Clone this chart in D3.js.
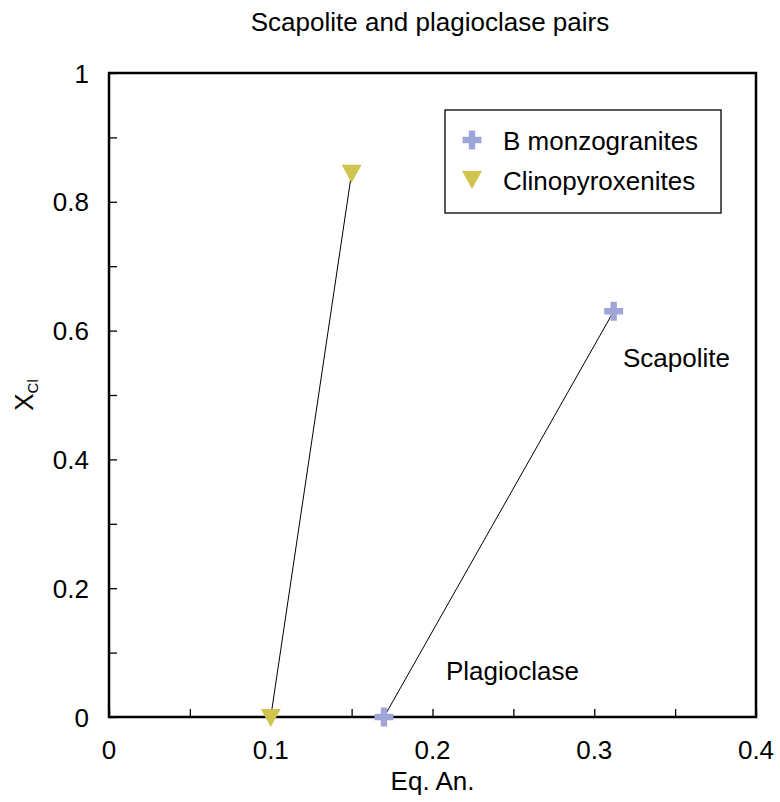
<!DOCTYPE html>
<html>
<head>
<meta charset="utf-8">
<script src="https://cdn.jsdelivr.net/npm/d3@7"></script>
<style>
 body { margin: 0; background: #fff; }
 text { font-family: "Liberation Sans", Arial, sans-serif; fill: #000; }
</style>
</head>
<body>
<div id="chart"></div>
<script>
 // data
 const seriesNames = ["B monzogranites", "Clinopyroxenites"];
 const monzoX = [0.17, 0.312];
 const monzoY = [0.0, 0.63];
 const clinoX = [0.1, 0.15];
 const clinoY = [0.0, 0.845];
 const xTicks = [0, 0.1, 0.2, 0.3, 0.4];
 const yTicks = [0, 0.2, 0.4, 0.6, 0.8, 1];
 const xMinor = [0.05, 0.15, 0.25, 0.35];
 const yMinor = [0.1, 0.3, 0.5, 0.7, 0.9];
 const notes = [{label: "Scapolite", x: 0.3178, y: 0.5435}, {label: "Plagioclase", x: 0.2083, y: 0.0575}];

 const W = 780, H = 802;
 const margin = {top: 73, right: 24, bottom: 85, left: 109};
 const width = W - margin.left - margin.right,
     height = H - margin.top - margin.bottom;

 const svg = d3.select("#chart").append("svg")
     .attr("width", W)
     .attr("height", H);

 const g = svg.append("g")
     .attr("transform", "translate(" + margin.left + "," + margin.top + ")");

 const x = d3.scaleLinear().domain([0, 0.4]).range([0, width]);
 const y = d3.scaleLinear().domain([0, 1]).range([height, 0]);

 // inward ticks
 g.append("g")
     .attr("transform", "translate(0," + height + ")")
     .call(d3.axisBottom(x).tickValues(xTicks.concat(xMinor)).tickSize(-8).tickFormat(""))
     .call(a => a.select(".domain").remove());
 g.append("g")
     .call(d3.axisLeft(y).tickValues(yTicks.concat(yMinor)).tickSize(-8).tickFormat(""))
     .call(a => a.select(".domain").remove());
 g.selectAll(".tick line").attr("stroke", "#000").attr("stroke-width", 1.3);

 // tick labels
 g.selectAll(".xlab").data(xTicks).enter().append("text")
     .attr("x", d => x(d)).attr("y", height + 42)
     .attr("text-anchor", "middle").attr("font-size", 26)
     .text(d => d);
 g.selectAll(".ylab").data(yTicks).enter().append("text")
     .attr("x", -20).attr("y", d => y(d) + 9.5)
     .attr("text-anchor", "end").attr("font-size", 26)
     .text(d => d);

 // frame
 g.append("rect")
     .attr("width", width).attr("height", height)
     .attr("fill", "none").attr("stroke", "#000").attr("stroke-width", 2.5);

 // tie lines
 const line = d3.line().x(d => x(d[0])).y(d => y(d[1]));
 g.append("path").datum(d3.zip(clinoX, clinoY)).attr("d", line)
     .attr("fill", "none").attr("stroke", "#000").attr("stroke-width", 1);
 g.append("path").datum(d3.zip(monzoX, monzoY)).attr("d", line)
     .attr("fill", "none").attr("stroke", "#000").attr("stroke-width", 1);

 const cross = d3.symbol().type(d3.symbolCross).size(200);
 const tri = "M-10,-8L10,-8L0,10Z";
 const blue = "#9ea6d8", olive = "#cfc54e";

 g.selectAll(".monzo").data(d3.zip(monzoX, monzoY)).enter().append("path")
     .attr("transform", d => "translate(" + x(d[0]) + "," + y(d[1]) + ")")
     .attr("d", cross).attr("fill", blue);
 g.selectAll(".clino").data(d3.zip(clinoX, clinoY)).enter().append("path")
     .attr("transform", d => "translate(" + x(d[0]) + "," + y(d[1]) + ")")
     .attr("d", tri).attr("fill", olive);

 // annotations
 g.selectAll(".note").data(notes).enter().append("text")
     .attr("x", d => x(d.x)).attr("y", d => y(d.y))
     .attr("font-size", 26)
     .text(d => d.label);

 // legend
 const leg = g.append("g").attr("transform", "translate(" + (445 - margin.left) + "," + (110 - margin.top) + ")");
 leg.append("rect").attr("width", 276).attr("height", 103)
     .attr("fill", "#fff").attr("stroke", "#000").attr("stroke-width", 1.3);
 leg.append("path").attr("transform", "translate(27,30)").attr("d", cross).attr("fill", blue);
 leg.append("path").attr("transform", "translate(27,69)").attr("d", tri).attr("fill", olive);
 leg.selectAll(".lt").data(seriesNames).enter().append("text")
     .attr("x", 58).attr("y", (d, i) => 40 + i * 40)
     .attr("font-size", 26)
     .text(d => d);

 // titles
 svg.append("text").attr("x", 430).attr("y", 31)
     .attr("text-anchor", "middle").attr("font-size", 26)
     .text("Scapolite and plagioclase pairs");
 svg.append("text").attr("x", margin.left + width / 2).attr("y", 790)
     .attr("text-anchor", "middle").attr("font-size", 26)
     .text("Eq. An.");
 const yl = svg.append("text")
     .attr("transform", "translate(33,395) rotate(-90)")
     .attr("text-anchor", "middle").attr("font-size", 26);
 yl.append("tspan").text("X");
 yl.append("tspan").attr("font-size", 15).attr("dy", 5).text("Cl");
</script>
</body>
</html>
